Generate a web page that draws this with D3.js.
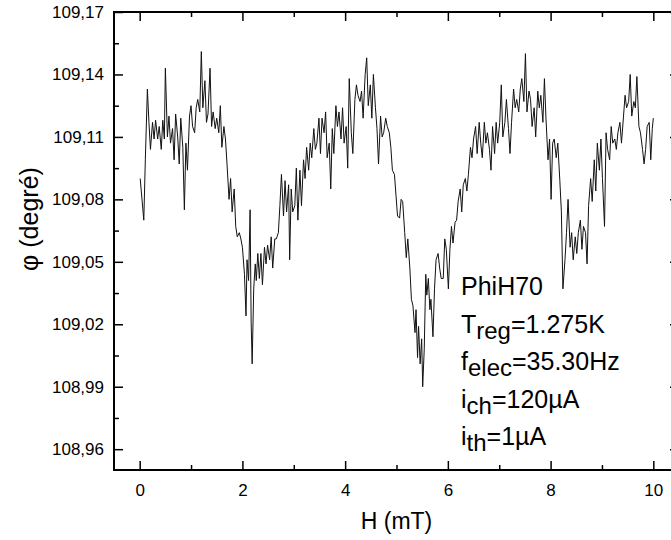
<!DOCTYPE html>
<html lang="fr">
<head>
<meta charset="UTF-8" />
<title>PhiH70</title>
<script src="https://cdn.jsdelivr.net/npm/d3@7"></script>
<style>
  body { margin: 0; background: #fff; }
  svg { display: block; font-family: "Liberation Sans", Arial, sans-serif; }
</style>
</head>
<body>
<svg width="671" height="540"></svg>
<script>
// champ H (mT)
const H = [
  0.01, 0.08, 0.11, 0.15, 0.18, 0.21, 0.25, 0.28, 0.31, 0.35, 0.38, 0.42, 0.45, 0.48, 0.50, 0.54, 0.57, 0.60, 0.64, 0.67,
  0.70, 0.74, 0.77, 0.80, 0.84, 0.87, 0.90, 0.93, 0.97, 1.00,
  1.03, 1.07, 1.10, 1.13, 1.17, 1.20, 1.23, 1.27, 1.30, 1.33, 1.37, 1.40, 1.43, 1.47, 1.50, 1.54, 1.57, 1.60, 1.64, 1.67,
  1.70, 1.74, 1.77, 1.80, 1.84, 1.87, 1.90, 1.94, 1.97, 2.00,
  2.04, 2.07, 2.09, 2.12, 2.15, 2.17, 2.19, 2.22, 2.25, 2.27, 2.30, 2.33, 2.36, 2.39, 2.43, 2.46, 2.49, 2.53, 2.56, 2.59,
  2.63, 2.66, 2.70, 2.73, 2.76, 2.80, 2.83, 2.86, 2.90, 2.92, 2.95, 2.98,
  3.02, 3.05, 3.08, 3.12, 3.15, 3.19, 3.22, 3.25, 3.29, 3.32, 3.35, 3.39, 3.42, 3.45, 3.49, 3.52, 3.55, 3.59, 3.62, 3.65,
  3.69, 3.72, 3.75, 3.78, 3.82, 3.85, 3.88, 3.92, 3.95, 3.98,
  4.02, 4.05, 4.08, 4.12, 4.15, 4.19, 4.22, 4.25, 4.29, 4.32, 4.35, 4.39, 4.42, 4.45, 4.49, 4.52, 4.55, 4.59, 4.62, 4.65,
  4.69, 4.72, 4.75, 4.79, 4.82, 4.86, 4.89, 4.92, 4.96, 4.99,
  5.02, 5.06, 5.09, 5.12, 5.16, 5.19, 5.22, 5.26, 5.29, 5.32, 5.36, 5.38, 5.41, 5.43, 5.46, 5.49, 5.51, 5.54, 5.57, 5.59,
  5.62, 5.65, 5.67, 5.71, 5.74, 5.77, 5.81, 5.84, 5.87, 5.91, 5.94, 5.97,
  6.01, 6.04, 6.07, 6.10, 6.14, 6.17, 6.20, 6.24, 6.27, 6.30, 6.34, 6.37, 6.40, 6.44, 6.47, 6.50, 6.54, 6.57, 6.61, 6.64,
  6.67, 6.71, 6.74, 6.77, 6.81, 6.84, 6.87, 6.91, 6.94, 6.97,
  7.01, 7.04, 7.07, 7.11, 7.14, 7.18, 7.21, 7.24, 7.28, 7.31, 7.34, 7.38, 7.41, 7.44, 7.48, 7.51, 7.54, 7.58, 7.61, 7.64,
  7.68, 7.71, 7.75, 7.78, 7.81, 7.85, 7.88, 7.91, 7.95, 7.98,
  8.01, 8.04, 8.07, 8.11, 8.14, 8.18, 8.21, 8.24, 8.28, 8.31, 8.34, 8.38, 8.41, 8.44, 8.48, 8.51, 8.54, 8.58, 8.61, 8.64,
  8.68, 8.71, 8.74, 8.78, 8.81, 8.85, 8.88, 8.91, 8.95, 8.98,
  9.01, 9.05, 9.08, 9.11, 9.15, 9.18, 9.21, 9.25, 9.28, 9.31, 9.35, 9.38, 9.42, 9.45, 9.48, 9.52, 9.55, 9.58, 9.62, 9.65,
  9.68, 9.72, 9.75, 9.79, 9.82, 9.85, 9.88, 9.92, 9.95, 9.98, 10.00
];

// phase phi (degrés)
const phi = [
  109.090, 109.070, 109.099, 109.133, 109.117, 109.104, 109.117, 109.109, 109.118, 109.109, 109.115, 109.104, 109.118, 109.109, 109.143, 109.110, 109.120, 109.107, 109.114, 109.099,
  109.121, 109.110, 109.097, 109.119, 109.105, 109.075, 109.107, 109.094, 109.120, 109.125,
  109.115, 109.112, 109.124, 109.128, 109.122, 109.151, 109.124, 109.137, 109.117, 109.121, 109.143, 109.115, 109.122, 109.114, 109.119, 109.112, 109.125, 109.105, 109.115, 109.109,
  109.097, 109.080, 109.090, 109.074, 109.085, 109.067, 109.062, 109.064, 109.061, 109.057,
  109.044, 109.024, 109.051, 109.041, 109.075, 109.021, 109.001, 109.037, 109.049, 109.041, 109.054, 109.042, 109.054, 109.039, 109.057, 109.049, 109.058, 109.051, 109.062, 109.047,
  109.061, 109.061, 109.064, 109.077, 109.092, 109.072, 109.089, 109.074, 109.087, 109.051, 109.085, 109.074,
  109.077, 109.095, 109.070, 109.094, 109.077, 109.099, 109.090, 109.105, 109.094, 109.107, 109.100, 109.114, 109.104, 109.107, 109.119, 109.102, 109.119, 109.112, 109.122, 109.100,
  109.107, 109.085, 109.114, 109.102, 109.125, 109.115, 109.122, 109.109, 109.124, 109.107,
  109.115, 109.095, 109.138, 109.112, 109.102, 109.128, 109.135, 109.130, 109.127, 109.132, 109.119, 109.140, 109.148, 109.125, 109.135, 109.119, 109.140, 109.124, 109.114, 109.097,
  109.120, 109.110, 109.112, 109.119, 109.115, 109.112, 109.105, 109.094, 109.092, 109.082,
  109.072, 109.071, 109.080, 109.079, 109.064, 109.052, 109.061, 109.047, 109.032, 109.029, 109.016, 109.027, 109.004, 109.019, 109.001, 109.013, 108.990, 109.008, 109.044, 109.034,
  109.042, 109.027, 109.032, 109.014, 109.037, 109.051, 109.054, 109.047, 109.042, 109.042, 109.061, 109.056,
  109.037, 109.056, 109.067, 109.059, 109.069, 109.070, 109.079, 109.085, 109.074, 109.087, 109.090, 109.084, 109.092, 109.105, 109.100, 109.109, 109.115, 109.102, 109.117, 109.107,
  109.100, 109.117, 109.107, 109.112, 109.104, 109.094, 109.115, 109.102, 109.117, 109.107,
  109.117, 109.135, 109.110, 109.117, 109.128, 109.114, 109.102, 109.117, 109.133, 109.124, 109.128, 109.122, 109.133, 109.138, 109.127, 109.150, 109.122, 109.132, 109.128, 109.115,
  109.124, 109.110, 109.132, 109.124, 109.130, 109.117, 109.138, 109.119, 109.099, 109.109,
  109.080, 109.107, 109.109, 109.100, 109.107, 109.089, 109.074, 109.037, 109.051, 109.064, 109.080, 109.057, 109.064, 109.051, 109.062, 109.054, 109.064, 109.070, 109.056, 109.067,
  109.064, 109.049, 109.077, 109.090, 109.079, 109.099, 109.084, 109.107, 109.094, 109.109,
  109.090, 109.067, 109.112, 109.104, 109.099, 109.115, 109.107, 109.109, 109.104, 109.112, 109.117, 109.107, 109.120, 109.130, 109.124, 109.127, 109.140, 109.120, 109.127, 109.124,
  109.139, 109.115, 109.112, 109.104, 109.097, 109.104, 109.115, 109.117, 109.099, 109.114, 109.119
];

const xMajor = [0, 2, 4, 6, 8, 10];
const xMinor = [1, 3, 5, 7, 9];
const yMajor = [108.96, 108.99, 109.02, 109.05, 109.08, 109.11, 109.14, 109.17];
const yMinor = [108.975, 109.005, 109.035, 109.065, 109.095, 109.125, 109.155];

const legendLines = [
  { main: "PhiH70" },
  { main: "T", sub: "reg", rest: "=1.275K" },
  { main: "f", sub: "elec", rest: "=35.30Hz" },
  { main: "i", sub: "ch", rest: "=120µA" },
  { main: "i", sub: "th", rest: "=1µA" }
];

const svg = d3.select("svg");
const plotL = 114, plotR = 679, plotT = 12, plotB = 470;

const x = d3.scaleLinear().domain([-0.5, 10.5]).range([plotL, plotR]);
const y = d3.scaleLinear().domain([108.95, 109.17]).range([plotB, plotT]);

const frFmt = d3.formatLocale({ decimal: ",", thousands: " ", grouping: [3], currency: ["", " €"] }).format(".2f");

// axes (ticks vers l'intérieur)
function styleAxis(g) {
  g.select(".domain").remove();
  g.selectAll(".tick line").attr("stroke", "#000").attr("stroke-width", 1.5);
  g.selectAll(".tick text").attr("fill", "#000").style("font-size", "17px")
    .style("font-family", "'Liberation Sans', Arial, sans-serif");
}

svg.append("g").attr("transform", `translate(0,${plotB})`)
  .call(d3.axisBottom(x).tickValues(xMajor).tickSize(-9).tickPadding(14).tickFormat(d3.format("d")))
  .call(styleAxis);
svg.append("g").attr("transform", `translate(0,${plotB})`)
  .call(d3.axisBottom(x).tickValues(xMinor).tickSize(-5).tickFormat(""))
  .call(styleAxis);
svg.append("g").attr("transform", `translate(0,${plotT})`)
  .call(d3.axisTop(x).tickValues(xMajor).tickSize(-9).tickFormat(""))
  .call(styleAxis);
svg.append("g").attr("transform", `translate(0,${plotT})`)
  .call(d3.axisTop(x).tickValues(xMinor).tickSize(-5).tickFormat(""))
  .call(styleAxis);

svg.append("g").attr("transform", `translate(${plotL},0)`)
  .call(d3.axisLeft(y).tickValues(yMajor).tickSize(-9).tickPadding(10).tickFormat(frFmt))
  .call(styleAxis);
svg.append("g").attr("transform", `translate(${plotL},0)`)
  .call(d3.axisLeft(y).tickValues(yMinor).tickSize(-5).tickFormat(""))
  .call(styleAxis);
svg.append("g").attr("transform", `translate(${plotR},0)`)
  .call(d3.axisRight(y).tickValues(yMajor).tickSize(-9).tickFormat(""))
  .call(styleAxis);
svg.append("g").attr("transform", `translate(${plotR},0)`)
  .call(d3.axisRight(y).tickValues(yMinor).tickSize(-5).tickFormat(""))
  .call(styleAxis);

// cadre
svg.append("rect")
  .attr("x", plotL).attr("y", plotT)
  .attr("width", plotR - plotL).attr("height", plotB - plotT)
  .attr("fill", "none").attr("stroke", "#000").attr("stroke-width", 2);

// courbe
const line = d3.line().x((d, i) => x(H[i])).y(d => y(d));
svg.append("path")
  .datum(phi)
  .attr("d", line)
  .attr("fill", "none")
  .attr("stroke", "#111")
  .attr("stroke-width", 1);

// titres des axes
svg.append("text")
  .attr("x", x(5)).attr("y", 529)
  .attr("text-anchor", "middle")
  .style("font-size", "23px")
  .text("H (mT)");

svg.append("text")
  .attr("transform", "translate(38,219) rotate(-90)")
  .attr("text-anchor", "middle")
  .style("font-size", "25px")
  .text("φ (degré)");

// légende
const leg = svg.append("g").style("font-size", "25px");
legendLines.forEach((l, i) => {
  const t = leg.append("text").attr("x", 461).attr("y", 295 + i * 37.5);
  t.append("tspan").text(l.main);
  if (l.sub) {
    t.append("tspan").attr("dy", 6).style("font-size", "24px").text(l.sub);
    t.append("tspan").attr("dy", -6).text(l.rest);
  }
});
</script>
</body>
</html>
